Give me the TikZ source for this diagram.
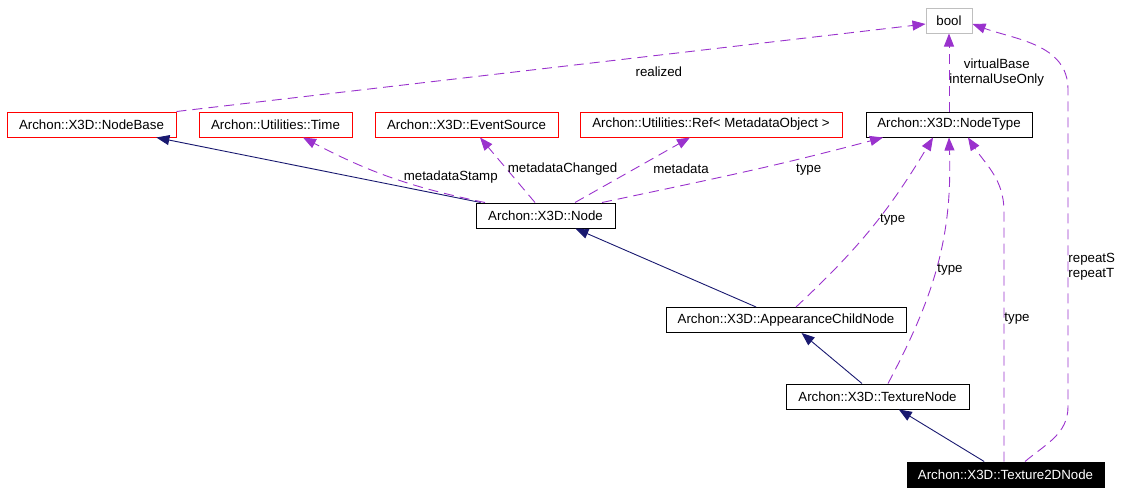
\documentclass[tikz,border=0pt]{standalone}
\usepackage{fontspec}
\setmainfont{Liberation Sans}
\usepackage{xcolor}
\usepackage{tikz}
\usetikzlibrary{positioning, arrows.meta, calc}

\definecolor{inhblue}{HTML}{191970}
\definecolor{usepurple}{HTML}{9A32CD}
\definecolor{extred}{HTML}{FF0000}
\definecolor{boolgray}{HTML}{BFBFBF}

\begin{document}
\begin{tikzpicture}[
  x=1pt, y=1pt,
  font=\fontsize{13.3}{15}\selectfont,
  cls/.style={
    draw=black, line width=1pt, inner sep=0pt, minimum height=25pt
  },
  extcls/.style={cls, draw=extred},
  inh/.style={
    draw=inhblue, line width=0.9pt,
    -{Triangle[length=13pt, width=10pt, fill=inhblue]}
  },
  use/.style={
    draw=usepurple, line width=0.9pt, dash pattern=on 10pt off 6pt,
    -{Triangle[length=13pt, width=10pt, fill=usepurple]}
  },
  edgelabel/.style={inner sep=0pt, align=center}
]
\useasboundingbox (0,0) rectangle (1123,-493);

% classes
\node[extcls, minimum width=169pt] (nodebase) at (91.5,-124.5) {Archon::X3D::NodeBase};
\node[extcls, minimum width=153pt] (time) at (275.5,-124.5) {Archon::Utilities::Time};
\node[extcls, minimum width=183pt] (eventsource) at (466.5,-124.5) {Archon::X3D::EventSource};
\node[extcls, minimum width=262pt] (ref) at (711,-124.5) {Archon::Utilities::Ref< MetadataObject >};
\node[cls, minimum width=166pt] (nodetype) at (949,-124.5) {Archon::X3D::NodeType};
\node[cls, draw=boolgray, minimum width=46pt] (boolnode) at (949,-20.5) {bool};
\node[cls, minimum width=139pt] (x3dnode) at (545.5,-215.5) {Archon::X3D::Node};
\node[cls, minimum width=240pt] (appchild) at (786,-320) {Archon::X3D::AppearanceChildNode};
\node[cls, minimum width=183pt] (texnode) at (877.5,-396.5) {Archon::X3D::TextureNode};
\node[cls, fill=black, text=white, minimum width=197pt] (tex2d) at (1005.5,-474.5) {Archon::X3D::Texture2DNode};

% inheritance
\draw[inh] (x3dnode) -- (nodebase);
\draw[inh] (appchild) -- (x3dnode);
\draw[inh] (texnode) -- (appchild);
\draw[inh] (tex2d) -- (texnode);

% usage
\draw[use] ([xshift=-60.5pt]x3dnode.north) to[bend left=8] node[pos=0.5, right=12pt, edgelabel] {metadataStamp} ([xshift=27.5pt]time.south);
\draw[use] ([xshift=-10.5pt]x3dnode.north) -- node[pos=0.52, right=1pt, edgelabel] {metadataChanged} ([xshift=13.5pt]eventsource.south);
\draw[use] ([xshift=29.5pt]x3dnode.north) -- node[pos=0.52, right=18pt, edgelabel] {metadata} ([xshift=-21pt]ref.south);
\draw[use] ([xshift=56.5pt]x3dnode.north) to[out=12, in=195] node[pos=0.75, below=7pt, edgelabel] {type} ([xshift=-66pt]nodetype.south);
\draw[use] (nodebase.north east) -- node[pos=0.644, below=11pt, edgelabel] {realized} ([yshift=-3.5pt]boolnode.west);
\draw[use] (nodetype) -- node[midway, right=0pt, edgelabel] {virtualBase\\internalUseOnly} (boolnode);
\draw[use] ([xshift=10pt]appchild.north) to[bend right=8] node[pos=0.55, right=2pt, edgelabel] {type} ([xshift=-16pt]nodetype.south);
\draw[use] ([xshift=10.5pt]texnode.north) to[out=62, in=-88] node[pos=0.48, right=1pt, edgelabel] {type} (nodetype.south);
\draw[use] ([xshift=-1.5pt]tex2d.north) -- node[pos=0.57, right=0pt, edgelabel] {type} ++(0,250) to[out=90, in=-57] ([xshift=19pt]nodetype.south);
\draw[use] ([xshift=19.5pt]tex2d.north) to[out=40, in=-90] ++(43,55) -- node[pos=0.44, right=0pt, edgelabel, align=left] {repeatS\\repeatT} ++(0,317) to[out=90, in=-20] ([yshift=-3.5pt]boolnode.east);

\end{tikzpicture}
\end{document}
